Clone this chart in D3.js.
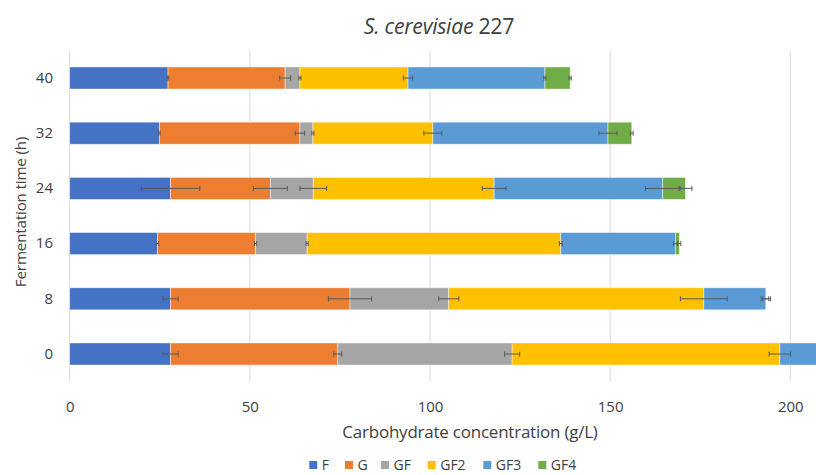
<!DOCTYPE html>
<html><head><meta charset="utf-8">
<script src="https://cdn.jsdelivr.net/npm/d3@7"></script>
<style>body{margin:0;background:#fff;overflow:hidden}svg{display:block}text{font-family:"Open Sans",sans-serif;fill:#404040}</style>
</head><body><div id="chart"></div>
<script>
const categories = ["0","8","16","24","32","40"];
const seriesNames = ["F","G","GF","GF2","GF3","GF4"];
const colors = ["#4472C4","#ED7D31","#A5A5A5","#FFC000","#5B9BD5","#70AD47"];
const F   = [28.0, 28.0, 24.4, 28.0, 24.9, 27.3];
const G   = [46.4, 49.8, 27.2, 27.7, 39.0, 32.5];
const GF  = [48.4, 27.4, 14.3, 11.9, 3.6, 4.1];
const GF2 = [74.3, 70.8, 70.4, 50.2, 33.3, 30.0];
const GF3 = [15.0, 17.2, 31.8, 46.8, 48.6, 38.0];
const GF4 = [3.0, 0.0, 1.1, 6.3, 6.6, 7.0];
const errF   = [2.1, 2.1, 0.3, 8.1, 0.2, 0.2];
const errG   = [1.1, 6.0, 0.3, 4.7, 1.3, 1.5];
const errGF  = [2.1, 2.8, 0.3, 3.7, 0.3, 0.3];
const errGF2 = [3.0, 6.5, 0.4, 3.3, 2.5, 1.3];
const errGF3 = [2.0, 1.3, 0.5, 4.8, 2.5, 0.3];
const errGF4 = [1.0, 0.8, 0.4, 1.8, 0.4, 0.3];
const xTicks = [0, 50, 100, 150, 200];

const W = 816, H = 475;
const values = [F, G, GF, GF2, GF3, GF4];
const errs = [errF, errG, errGF, errGF2, errGF3, errGF4];
const rows = categories.map((c, i) => {
  const o = {cat: c};
  seriesNames.forEach((s, k) => o[s] = values[k][i]);
  return o;
});
const stacked = d3.stack().keys(seriesNames)(rows);

const svg = d3.select("#chart").append("svg").attr("width", W).attr("height", H);
const x = d3.scaleLinear().domain([0, 200]).range([69.7, 790.3]);
const y = d3.scaleBand().domain(categories.slice().reverse()).range([50.4, 381.6]).paddingInner(0.6).paddingOuter(0.3);

function fit(sel, target) {
  const w = sel.node().getComputedTextLength();
  const fs = parseFloat(sel.attr("font-size"));
  sel.attr("font-size", (fs * target / w).toFixed(2));
}

// gridlines
svg.append("g").selectAll("line").data(xTicks.slice(1)).join("line")
  .attr("x1", d => x(d)).attr("x2", d => x(d)).attr("y1", 50.4).attr("y2", 381.6)
  .attr("stroke", "#d9d9d9").attr("stroke-width", 1);
svg.append("line").attr("x1", x(0)).attr("x2", x(0)).attr("y1", 50.4).attr("y2", 381.6)
  .attr("stroke", "#d9d9d9").attr("stroke-width", 1);

// bars
stacked.forEach((layer, k) => {
  svg.append("g").attr("fill", colors[k]).selectAll("rect").data(layer).join("rect")
    .attr("x", d => x(d[0])).attr("width", d => Math.max(0, x(d[1]) - x(d[0])))
    .attr("y", d => y(d.data.cat)).attr("height", y.bandwidth())
    .attr("stroke", "#ffffff").attr("stroke-opacity", 0.6).attr("stroke-width", 0.75);
});

// error bars
const eg = svg.append("g").attr("stroke", "#595959").attr("stroke-width", 1);
stacked.forEach((layer, k) => {
  layer.forEach((d, i) => {
    const e = errs[k][i];
    const cy = y(d.data.cat) + y.bandwidth() / 2;
    const x0 = x(d[1] - e), x1 = x(d[1] + e);
    eg.append("line").attr("x1", x0).attr("x2", x1).attr("y1", cy).attr("y2", cy);
    eg.append("line").attr("x1", x0).attr("x2", x0).attr("y1", cy - 2.5).attr("y2", cy + 2.5);
    eg.append("line").attr("x1", x1).attr("x2", x1).attr("y1", cy - 2.5).attr("y2", cy + 2.5);
  });
});

// x axis tick labels
const xa = svg.append("g").attr("transform", "translate(0,407)")
  .call(d3.axisBottom(x).tickValues(xTicks).tickSize(0).tickPadding(0));
xa.select(".domain").remove();
xa.selectAll("text").attr("font-size", 15).attr("dy", "0.35em").attr("fill", "#404040")
  .style("font-family", "'Open Sans', sans-serif");

// y axis tick labels
const ya = svg.append("g").attr("transform", "translate(53,0)")
  .call(d3.axisLeft(y).tickSize(0).tickPadding(0));
ya.select(".domain").remove();
ya.selectAll("text").attr("font-size", 15).attr("fill", "#404040")
  .style("font-family", "'Open Sans', sans-serif");

// axis titles
const xt = svg.append("text").attr("x", 470).attr("y", 432).attr("dy", "0.35em").attr("text-anchor", "middle")
  .attr("font-size", 14).attr("letter-spacing", "-0.2").text("Carbohydrate concentration (g/L)");
fit(xt, 254);
const yt = svg.append("text").attr("transform", "translate(21,212) rotate(-90)").attr("dy", "0.35em")
  .attr("text-anchor", "middle").attr("font-size", 14).attr("letter-spacing", "-0.2").text("Fermentation time (h)");
fit(yt, 150);

// title
const t = svg.append("text").attr("x", 439).attr("y", 27).attr("dy", "0.35em").attr("text-anchor", "middle")
  .attr("font-size", 17).attr("letter-spacing", "-0.3").attr("fill", "#404040");
t.append("tspan").attr("font-style", "italic").text("S. cerevisiae");
t.append("tspan").text(" 227");
fit(t, 149);

// legend
const legX = [309.3, 345, 381, 427.7, 483.3, 538.3];
const lg = svg.append("g").attr("transform", "translate(0,465)");
seriesNames.forEach((s, k) => {
  const g = lg.append("g").attr("transform", `translate(${legX[k]},0)`);
  g.append("rect").attr("x", 0).attr("y", -4).attr("width", 8).attr("height", 8).attr("fill", colors[k]);
  g.append("text").attr("x", 12.5).attr("dy", "0.35em").attr("font-size", 14).text(s);
});
</script></body></html>
